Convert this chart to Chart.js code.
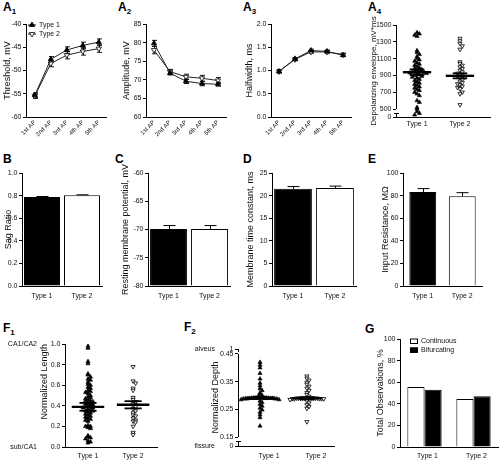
<!DOCTYPE html>
<html><head><meta charset="utf-8">
<script src="https://cdn.jsdelivr.net/npm/chart.js@4.4.1/dist/chart.umd.min.js"></script>
<style>
html,body{margin:0;padding:0;background:#fff;}
body{width:500px;height:460px;overflow:hidden;position:relative;font-family:'Liberation Sans',Arial,sans-serif;}
canvas{position:absolute;}
.lbl{position:absolute;font-weight:bold;font-size:12px;color:#000;line-height:1;}
.lbl sub{font-size:8px;vertical-align:-3px;line-height:0;}
</style></head><body>
<div class="lbl" style="left:3px;top:1px">A<sub>1</sub></div>
<div class="lbl" style="left:118px;top:1px">A<sub>2</sub></div>
<div class="lbl" style="left:243px;top:1px">A<sub>3</sub></div>
<div class="lbl" style="left:368px;top:1px">A<sub>4</sub></div>
<div class="lbl" style="left:3px;top:153px">B</div>
<div class="lbl" style="left:115px;top:153px">C</div>
<div class="lbl" style="left:243px;top:153px">D</div>
<div class="lbl" style="left:368px;top:153px">E</div>
<div class="lbl" style="left:3px;top:322px">F<sub>1</sub></div>
<div class="lbl" style="left:184px;top:321px">F<sub>2</sub></div>
<div class="lbl" style="left:365px;top:323px">G</div>
<script>
// ---------------- DATA ----------------
const apLabels = ['1st AP', '2nd AP', '3rd AP', '4th AP', '5th AP'];
const typeLabels = ['Type 1', 'Type 2'];
const seriesNames = ['Type 1', 'Type 2'];

const thresholdType1 = [-55.3, -47.6, -45.6, -44.6, -43.9];
const thresholdType2 = [-55.5, -48.5, -46.7, -45.9, -45.3];
const thresholdSem1 = [0.5, 0.6, 0.7, 0.7, 0.7];
const thresholdSem2 = [0.5, 0.7, 0.8, 0.8, 0.8];

const amplitudeType1 = [79.8, 71.8, 69.6, 69.0, 68.8];
const amplitudeType2 = [78.0, 72.2, 70.8, 70.4, 69.8];
const amplitudeSem1 = [0.8, 0.5, 0.6, 0.6, 0.5];
const amplitudeSem2 = [1.0, 0.6, 0.7, 0.8, 0.8];

const halfwidthType1 = [0.98, 1.25, 1.43, 1.41, 1.33];
const halfwidthType2 = [0.98, 1.24, 1.40, 1.40, 1.34];
const halfwidthSem1 = [0.03, 0.03, 0.03, 0.03, 0.03];
const halfwidthSem2 = [0.03, 0.03, 0.03, 0.03, 0.03];

const envelopeTicks = [500, 700, 900, 1100, 1300, 1500];
const envelopeType1 = [1410, 1395, 1380, 1365, 1195, 1175, 1150, 1125, 1100, 1085, 1070, 1050,
  1035, 1020, 1005, 990, 980, 970, 960, 955, 950, 945, 940, 935, 930, 925, 920, 910,
  900, 890, 880, 870, 855, 840, 825, 810, 795, 780, 765, 750, 735, 720, 700, 680, 660,
  600, 580, 520, 500, 470, 450, 430];
const envelopeType2 = [1340, 1310, 1280, 1250, 1210, 1060, 1040, 1020, 1000, 980, 960, 940, 925, 910,
  900, 890, 880, 865, 850, 830, 815, 800, 785, 770, 755, 740, 700, 680, 550];
const envelopeMean = [938, 895];
const envelopeSem = [34, 30];

const sagRatio = [0.788, 0.803];
const sagSem = [0.004, 0.004];
const restingPotential = [-69.9, -69.9];
const restingSem = [0.6, 0.6];
const timeConstant = [21.5, 21.7];
const timeConstantSem = [0.5, 0.4];
const inputResistance = [83.2, 79.4];
const inputResistanceSem = [3.0, 3.2];

const lengthType1 = [0.98, 0.96, 0.83, 0.81, 0.71, 0.70, 0.68, 0.66, 0.65, 0.63, 0.61, 0.60, 0.58, 0.57,
  0.55, 0.54, 0.53, 0.52, 0.50, 0.49, 0.48, 0.47, 0.46, 0.45, 0.45, 0.44, 0.43, 0.42, 0.42, 0.41, 0.40,
  0.40, 0.39, 0.38, 0.38, 0.37, 0.36, 0.35, 0.35, 0.34, 0.33, 0.32, 0.31, 0.30, 0.29, 0.28, 0.27, 0.26,
  0.25, 0.21, 0.20, 0.20, 0.19, 0.18, 0.11, 0.10, 0.09, 0.08, 0.06, 0.05, 0.04];
const lengthType2 = [0.78, 0.64, 0.62, 0.57, 0.55, 0.48, 0.46, 0.44, 0.42, 0.41, 0.40, 0.39, 0.37, 0.35,
  0.33, 0.31, 0.30, 0.28, 0.26, 0.25, 0.24, 0.20, 0.14, 0.12];
const lengthMean = [0.39, 0.41];
const lengthSem = [0.038, 0.035];
const lengthEnds = ['sub/CA1', 'CA1/CA2'];

const depthTicks = [0.15, 0.25, 0.35, 0.45];
const depthType1 = [0.42, 0.41, 0.40, 0.38, 0.36, 0.345, 0.335, 0.325, 0.318, 0.31, 0.305, 0.30,
  0.295, 0.292, 0.292, 0.29, 0.29, 0.29, 0.29, 0.29, 0.29, 0.29, 0.29, 0.29, 0.29, 0.288, 0.288,
  0.288, 0.288, 0.288, 0.285, 0.285, 0.28, 0.275, 0.268, 0.262, 0.255, 0.248, 0.24, 0.23, 0.22, 0.19];
const depthType2 = [0.37, 0.362, 0.355, 0.347, 0.34, 0.333, 0.326, 0.318, 0.31, 0.303, 0.297,
  0.292, 0.29, 0.29, 0.29, 0.29, 0.29, 0.29, 0.29, 0.29, 0.29, 0.29, 0.288, 0.288, 0.288, 0.288,
  0.288, 0.285, 0.28, 0.273, 0.266, 0.26, 0.253, 0.205];
const depthMean = [0.292, 0.290];
const depthSem = [0.004, 0.004];
const depthEnds = ['fissure', 'alveus'];

const observationGroups = ['Continuous', 'Bifurcating'];
const continuousPct = [55.6, 44.4];
const bifurcatingPct = [53.1, 46.9];

// ---------------- HELPERS ----------------
const FONT = "'Liberation Sans', Arial, Helvetica, sans-serif";
Chart.defaults.font.family = FONT;
Chart.defaults.color = '#111';
Chart.defaults.plugins.legend.display = false;
Chart.defaults.plugins.tooltip.enabled = false;
Chart.defaults.animation = false;

function swarm(values, center, bin, step) {
  const counts = {};
  return values.map(v => {
    const k = Math.round(v / bin);
    counts[k] = (counts[k] || 0) + 1;
    const n = counts[k] - 1;
    const off = n === 0 ? 0 : (n % 2 ? 1 : -1) * Math.ceil(n / 2) * step;
    return {x: center + off, y: v};
  });
}
function series(vals) { return vals.map((v, i) => ({x: i + 1, y: v})); }

function tri(ctx, x, y, r, rot, fill) {
  ctx.save(); ctx.translate(x, y); ctx.rotate(rot * Math.PI / 180);
  ctx.beginPath(); ctx.moveTo(0, -r); ctx.lineTo(r * 0.866, r * 0.5); ctx.lineTo(-r * 0.866, r * 0.5); ctx.closePath();
  ctx.fillStyle = fill; ctx.fill(); ctx.strokeStyle = '#000'; ctx.lineWidth = 0.8; ctx.stroke(); ctx.restore();
}

const errorBars = {
  id: 'errorBars',
  _draw(chart, o) {
    const ctx = chart.ctx; ctx.save(); ctx.strokeStyle = '#000'; ctx.lineWidth = o.width || 1;
    o.sets.forEach(s => {
      const meta = chart.getDatasetMeta(s.dataset); const ys = chart.scales[meta.yAxisID];
      meta.data.forEach((el, j) => {
        const v = s.values[j], e = s.sems[j];
        const x = Math.round(el.x) + 0.5;
        const yt = ys.getPixelForValue(v + e), yb = ys.getPixelForValue(s.down ? v - e : v);
        const h = s.cap / 2;
        ctx.beginPath(); ctx.moveTo(x, yb); ctx.lineTo(x, yt);
        ctx.moveTo(x - h, yt); ctx.lineTo(x + h, yt);
        if (s.down) { ctx.moveTo(x - h, yb); ctx.lineTo(x + h, yb); }
        ctx.stroke();
      });
    });
    ctx.restore();
  },
  beforeDatasetsDraw(chart, a, o) { if (o.sets && o.under) this._draw(chart, o); },
  afterDatasetsDraw(chart, a, o) { if (o.sets && !o.under) this._draw(chart, o); }
};
const meanSem = {
  id: 'meanSem',
  afterDatasetsDraw(chart, a, o) {
    if (!o.means) return;
    const ctx = chart.ctx, xs = chart.scales.x, ys = chart.scales.y;
    ctx.save(); ctx.strokeStyle = '#000';
    const line = (x0, x1, v, w) => { const y = ys.getPixelForValue(v); ctx.lineWidth = w; ctx.beginPath(); ctx.moveTo(xs.getPixelForValue(x0), y); ctx.lineTo(xs.getPixelForValue(x1), y); ctx.stroke(); };
    o.means.forEach((m, i) => {
      const c = i + 1;
      line(c - o.meanHalf, c + o.meanHalf, m, 2.4);
      line(c - o.semHalf, c + o.semHalf, m + o.sems[i], 1.8);
      line(c - o.semHalf, c + o.semHalf, m - o.sems[i], 1.8);
    });
    ctx.restore();
  }
};
const brokenAxis = {
  id: 'brokenAxis',
  afterDraw(chart, a, o) {
    if (!o.segments) return;
    const ctx = chart.ctx, ys = chart.scales.y; const x = Math.round(chart.chartArea.left) + 0.5;
    ctx.save(); ctx.strokeStyle = '#000'; ctx.lineWidth = 1; ctx.beginPath();
    o.segments.forEach(([p, q]) => { ctx.moveTo(x, ys.getPixelForValue(p)); ctx.lineTo(x, ys.getPixelForValue(q)); });
    (o.caps || []).forEach(v => { const y = Math.round(ys.getPixelForValue(v)) + 0.5; ctx.moveTo(x - 2.5, y); ctx.lineTo(x + 2.5, y); });
    ctx.stroke(); ctx.restore();
  }
};
const sideLabels = {
  id: 'sideLabels',
  afterDraw(chart, a, o) {
    if (!o.items) return;
    const ctx = chart.ctx, ys = chart.scales.y;
    ctx.save(); ctx.font = '7px ' + FONT; ctx.fillStyle = '#111'; ctx.textAlign = 'right'; ctx.textBaseline = 'middle';
    o.items.forEach(it => ctx.fillText(it.text, chart.chartArea.left - o.dx, ys.getPixelForValue(it.value)));
    ctx.restore();
  }
};
const miniLegend = {
  id: 'miniLegend',
  afterDraw(chart, a, o) {
    if (!o.kind) return;
    const ctx = chart.ctx, ca = chart.chartArea;
    ctx.save(); ctx.font = '7px ' + FONT; ctx.textBaseline = 'middle';
    chart.data.datasets.forEach((ds, i) => {
      const x = ca.left + o.dx, y = ca.top + o.dy + i * o.gap;
      if (o.kind === 'marker') {
        ctx.strokeStyle = '#000'; ctx.lineWidth = 1; ctx.beginPath(); ctx.moveTo(x - 4, y); ctx.lineTo(x + 4, y); ctx.stroke();
        tri(ctx, x, y, 3, ds.pointRotation || 0, ds.pointBackgroundColor);
        ctx.fillStyle = '#111'; ctx.fillText(ds.label, x + 7, y);
      } else {
        ctx.fillStyle = ds.backgroundColor; ctx.fillRect(x, y - 2.5, 8, 5);
        ctx.strokeStyle = '#000'; ctx.lineWidth = 1; ctx.strokeRect(x + 0.5, y - 2, 7, 4.5);
        ctx.fillStyle = '#111'; ctx.fillText(ds.label, x + 11, y);
      }
    });
    ctx.restore();
  }
};
Chart.register(errorBars, meanSem, brokenAxis, sideLabels, miniLegend);

function yAxis(o) {
  const ax = {
    type: 'linear', position: 'left', min: o.min, max: o.max,
    ticks: {stepSize: o.step, font: {size: 7}, color: '#111', padding: 1.5, autoSkip: false,
      callback: o.fmt || (v => v)},
    grid: {display: true, drawOnChartArea: false, drawTicks: true, tickLength: 3, color: '#000', lineWidth: 1},
    border: {display: o.border !== false, color: '#000', width: 1},
    title: {display: true, text: o.title, font: {size: o.titleSize || 9}, color: '#111', align: o.align || 'center', padding: {top: 0, bottom: 0}}
  };
  if (o.ticks) ax.afterBuildTicks = s => { s.ticks = o.ticks.map(v => ({value: v})); };
  return ax;
}
function xLinear(o) {
  return {
    type: 'linear', position: 'bottom', min: o.min, max: o.max,
    ticks: {font: {size: o.size || 7}, color: '#111', padding: o.pad == null ? 3 : o.pad, autoSkip: false,
      maxRotation: o.rot || 0, minRotation: o.rot || 0, labelOffset: o.labelOffset || 0,
      callback: v => o.labels[Math.round(v) - 1]},
    grid: {display: false, drawTicks: false}, border: {display: true, color: '#000', width: 1},
    afterBuildTicks: s => { s.ticks = o.labels.map((_, i) => ({value: i + 1})); }
  };
}
function xCat(o) {
  return {type: 'category', offset: true,
    ticks: {font: {size: 7}, color: '#111', padding: o.pad || 2, labelOffset: o.labelOffset || 0, maxRotation: 0, minRotation: 0, autoSkip: false},
    grid: {display: false, drawTicks: false}, border: {display: true, color: '#000', width: 1}};
}
function makeChart(box, plot, titleX, cfg) {
  const [cl, ct, cw, ch] = box, [pl, pt, pr, pb] = plot;
  const c = document.createElement('canvas');
  c.width = cw; c.height = ch;
  c.style.left = cl + 'px'; c.style.top = ct + 'px'; c.style.width = cw + 'px'; c.style.height = ch + 'px';
  document.body.appendChild(c);
  const o = cfg.options;
  o.responsive = false; o.animation = false; o.maintainAspectRatio = false;
  o.layout = {autoPadding: false, padding: {left: 0, top: pt - ct, right: cl + cw - pr, bottom: 0}};
  const ty = o.scales.y.title; ty.padding = {top: titleX - cl - ty.font.size * 0.6, bottom: 0};
  o.scales.y.afterFit = s => { s.width = pl - cl; };
  o.scales.x.afterFit = s => { s.height = ct + ch - pb; };
  return new Chart(c, cfg);
}
function lineSets(a, b) {
  const common = {borderColor: '#222', borderWidth: 1, pointRadius: 3, pointStyle: 'triangle', pointBorderColor: '#000', pointBorderWidth: 0.8, tension: 0};
  return [
    Object.assign({label: seriesNames[0], data: series(a), pointBackgroundColor: '#000', pointRotation: 0}, common),
    Object.assign({label: seriesNames[1], data: series(b), pointBackgroundColor: '#fff', pointRotation: 180}, common)
  ];
}
function lineErr(v1, s1, v2, s2) {
  return {under: true, width: 0.9, sets: [
    {dataset: 0, values: v1, sems: s1, down: true, cap: 5},
    {dataset: 1, values: v2, sems: s2, down: true, cap: 5}]};
}
function scatterSets(a, b) {
  return [
    {label: seriesNames[0], data: a, pointStyle: 'triangle', pointRadius: 2.4, pointRotation: 0, pointBackgroundColor: '#000', pointBorderColor: '#000', pointBorderWidth: 0.6, showLine: false},
    {label: seriesNames[1], data: b, pointStyle: 'triangle', pointRadius: 2.4, pointRotation: 180, pointBackgroundColor: '#fff', pointBorderColor: '#000', pointBorderWidth: 0.8, showLine: false}
  ];
}
function barSet(vals) {
  return [{data: vals, backgroundColor: ['#000', '#fff'], borderColor: '#000', borderWidth: 1, barPercentage: 0.9, categoryPercentage: 1}];
}

// ---------------- A1 ----------------
makeChart([0, 12, 112, 130], [26, 24, 106, 117], 8, {
  type: 'line', data: {datasets: lineSets(thresholdType1, thresholdType2)},
  options: {scales: {
    x: xLinear({min: 0.45, max: 5.45, labels: apLabels, rot: 45, size: 6, pad: 2}),
    y: yAxis({min: -60, max: -40, step: 5, title: 'Threshold, mV'})},
    plugins: {errorBars: lineErr(thresholdType1, thresholdSem1, thresholdType2, thresholdSem2),
      miniLegend: {kind: 'marker', dx: 6, dy: 1, gap: 9}}}
});
// ---------------- A2 ----------------
makeChart([118, 12, 114, 130], [146, 24, 226, 117], 127, {
  type: 'line', data: {datasets: lineSets(amplitudeType1, amplitudeType2)},
  options: {scales: {
    x: xLinear({min: 0.5, max: 5.5, labels: apLabels, rot: 45, size: 6, pad: 2}),
    y: yAxis({min: 60, max: 85, step: 5, title: 'Amplitude, mV'})},
    plugins: {errorBars: lineErr(amplitudeType1, amplitudeSem1, amplitudeType2, amplitudeSem2)}}
});
// ---------------- A3 ----------------
makeChart([242, 12, 114, 130], [271, 24, 351, 117], 250, {
  type: 'line', data: {datasets: lineSets(halfwidthType1, halfwidthType2)},
  options: {scales: {
    x: xLinear({min: 0.5, max: 5.5, labels: apLabels, rot: 45, size: 6, pad: 2}),
    y: yAxis({min: 0, max: 2, step: 0.5, title: 'Halfwidth, ms', fmt: v => v.toFixed(1)})},
    plugins: {errorBars: lineErr(halfwidthType1, halfwidthSem1, halfwidthType2, halfwidthSem2)}}
});
// ---------------- A4 ----------------
makeChart([366, 12, 134, 130], [396, 25, 490, 117], 374, {
  type: 'scatter', data: {datasets: scatterSets(swarm(envelopeType1, 1, 45, 0.055), swarm(envelopeType2, 2, 45, 0.055))},
  options: {scales: {
    x: xLinear({min: 0.51, max: 2.7, labels: typeLabels, pad: 3}),
    y: yAxis({min: 405, max: 1500, ticks: [405].concat(envelopeTicks), border: false, titleSize: 8,
      title: 'Depolarizing envelope, mV*ms', fmt: v => (v === 405 ? '0' : v)})},
    plugins: {meanSem: {means: envelopeMean, sems: envelopeSem, meanHalf: 0.33, semHalf: 0.17},
      brokenAxis: {segments: [[500, 1500], [405, 452]], caps: [452]}}}
});
// ---------------- B ----------------
makeChart([0, 163, 106, 140], [22, 173, 102, 286], 9, {
  type: 'bar', data: {labels: typeLabels, datasets: barSet(sagRatio)},
  options: {scales: {x: xCat({pad: 6}), y: yAxis({min: 0, max: 1, step: 0.2, title: 'Sag Ratio', fmt: v => v.toFixed(1)})},
    plugins: {errorBars: {sets: [{dataset: 0, values: sagRatio, sems: sagSem, down: false, cap: 12}]}}}
});
// ---------------- C ----------------
const cSets = barSet(restingPotential); cSets[0].base = -80;
makeChart([116, 163, 118, 140], [148, 173, 230, 286], 126, {
  type: 'bar', data: {labels: typeLabels, datasets: cSets},
  options: {scales: {x: xCat({pad: 6}), y: yAxis({min: -80, max: -60, step: 5, title: 'Resting membrane potential, mV'})},
    plugins: {errorBars: {sets: [{dataset: 0, values: restingPotential, sems: restingSem, down: false, cap: 12}]}}}
});
// ---------------- D ----------------
makeChart([242, 163, 118, 140], [272, 173, 356, 286], 251, {
  type: 'bar', data: {labels: typeLabels, datasets: barSet(timeConstant)},
  options: {scales: {x: xCat({pad: 6}), y: yAxis({min: 0, max: 25, step: 5, title: 'Membrane time constant, ms'})},
    plugins: {errorBars: {sets: [{dataset: 0, values: timeConstant, sems: timeConstantSem, down: false, cap: 12}]}}}
});
// ---------------- E ----------------
const eSets = barSet(inputResistance); eSets[0].barPercentage = 0.68;
makeChart([376, 163, 112, 140], [403, 173, 482, 286], 386, {
  type: 'bar', data: {labels: typeLabels, datasets: eSets},
  options: {scales: {x: xCat({pad: 6}), y: yAxis({min: 0, max: 100, step: 20, title: 'Input Resistance, MΩ'})},
    plugins: {errorBars: {sets: [{dataset: 0, values: inputResistance, sems: inputResistanceSem, down: false, cap: 12}]}}}
});
// ---------------- F1 ----------------
makeChart([0, 334, 165, 130], [65, 344, 157, 447], 45, {
  type: 'scatter', data: {datasets: scatterSets(swarm(lengthType1, 1, 0.03, 0.055), swarm(lengthType2, 2, 0.03, 0.055))},
  options: {scales: {
    x: xLinear({min: 0.49, max: 2.53, labels: typeLabels, pad: 5}),
    y: yAxis({min: 0, max: 1, step: 0.2, title: 'Normalized Length', align: 'end', fmt: v => v.toFixed(1)})},
    plugins: {meanSem: {means: lengthMean, sems: lengthSem, meanHalf: 0.36, semHalf: 0.19},
      sideLabels: {dx: 28, items: [{text: lengthEnds[1], value: 1}, {text: lengthEnds[0], value: 0}]}}}
});
// ---------------- F2 ----------------
makeChart([175, 339, 160, 125], [238, 349, 335, 446], 216, {
  type: 'scatter', data: {datasets: scatterSets(swarm(depthType1, 1, 0.012, 0.045), swarm(depthType2, 2, 0.012, 0.045))},
  options: {scales: {
    x: xLinear({min: 0.53, max: 2.6, labels: typeLabels, pad: 6, labelOffset: 9}),
    y: yAxis({min: 0.1175, max: 0.468, ticks: [0.1175].concat(depthTicks, [0.468]), border: false,
      title: 'Normalized Depth', fmt: v => (v === 0.1175 ? '0' : v === 0.468 ? '1' : v.toFixed(2))})},
    plugins: {meanSem: {means: depthMean, sems: depthSem, meanHalf: 0.32, semHalf: 0.16},
      brokenAxis: {segments: [[0.15, 0.45], [0.1175, 0.1355], [0.457, 0.468]], caps: [0.1355]},
      sideLabels: {dx: 23, items: [{text: depthEnds[1], value: 0.468}, {text: depthEnds[0], value: 0.1175}]}}}
});
// ---------------- G ----------------
makeChart([370, 329, 130, 135], [400, 339, 498, 447], 381, {
  type: 'bar', data: {labels: typeLabels, datasets: [
    {label: observationGroups[0], data: continuousPct, backgroundColor: '#fff', borderColor: '#000', borderWidth: 1, barPercentage: 1, categoryPercentage: 0.7},
    {label: observationGroups[1], data: bifurcatingPct, backgroundColor: '#000', borderColor: '#000', borderWidth: 1, barPercentage: 1, categoryPercentage: 0.7}]},
  options: {scales: {x: xCat({pad: 5, labelOffset: 3}), y: yAxis({min: 0, max: 100, step: 20, title: 'Total Observations, %'})},
    plugins: {miniLegend: {kind: 'box', dx: 10, dy: 2, gap: 9}}}
});
</script>
</body></html>
